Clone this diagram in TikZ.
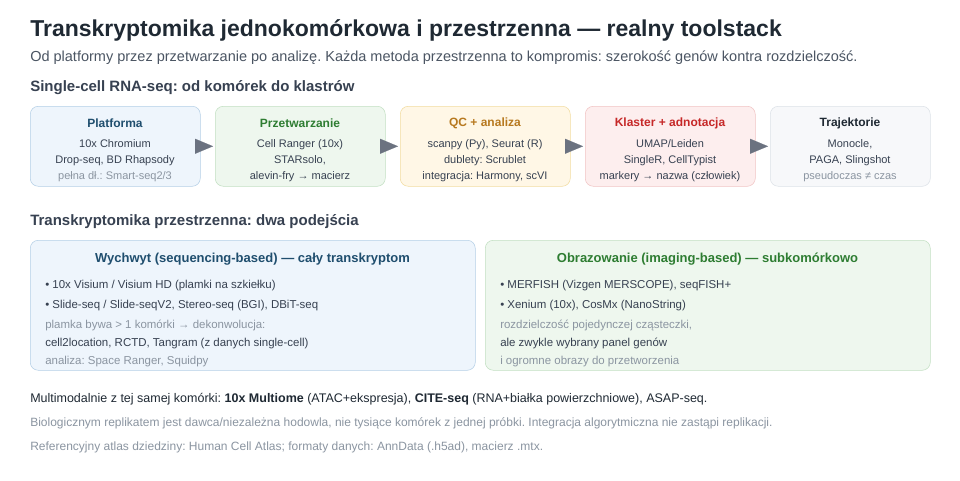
\documentclass[tikz,border=0pt]{standalone}
\usepackage{fontspec}
\setmainfont{Liberation Sans}
\usepackage{xcolor}
\definecolor{Charcoal}{HTML}{1F2933}
\definecolor{Slate Gray}{HTML}{4B5563}
\definecolor{Iron}{HTML}{374151}
\definecolor{Fog}{HTML}{8B95A1}
\definecolor{Steel}{HTML}{6B7280}
\definecolor{Ice}{HTML}{EEF5FC}
\definecolor{Ice Edge}{HTML}{B4CFE6}
\definecolor{Navy Ink}{HTML}{1F4E6E}
\definecolor{Mint}{HTML}{EEF7EE}
\definecolor{Mint Edge}{HTML}{C2E0C2}
\definecolor{Leaf}{HTML}{2E7D32}
\definecolor{Cream}{HTML}{FFF7E6}
\definecolor{Cream Edge}{HTML}{F2DCA0}
\definecolor{Amber}{HTML}{B7791F}
\definecolor{Blush}{HTML}{FDEEEE}
\definecolor{Blush Edge}{HTML}{F1C4C4}
\definecolor{Brick}{HTML}{C62828}
\definecolor{Cloud}{HTML}{F7F8FA}
\definecolor{Cloud Edge}{HTML}{DDE2E8}
\colorlet{cTitle}{Charcoal}
\colorlet{cSub}{Slate Gray}
\colorlet{cText}{Iron}
\colorlet{cMuted}{Fog}
\colorlet{cArrow}{Steel}
\usepackage{tikz}
\usetikzlibrary{arrows.meta, positioning}
\frenchspacing
\tikzset{
	line width = .75pt,
	>={Triangle[length=13.5pt, width=11.25pt]},
	stage/.style={
		draw,
		rounded corners=6pt,
		minimum width=127.5pt,
		minimum height=60pt,
		anchor=north west,
		inner sep=0pt
	},
	panel/.style={
		draw,
		rounded corners=6pt,
		minimum width=333.75pt,
		minimum height=97.5pt,
		anchor=north west,
		inner sep=0pt
	},
	stagetitle/.style={
		font=\fontsize{9}{11}\selectfont\bfseries,
		inner sep=0pt
	},
	stagebody/.style={
		font=\fontsize{8.25}{12}\selectfont,
		text=cText,
		align=center,
		inner sep=0pt
	},
	line/.style={
		font=\fontsize{8.6}{10}\selectfont,
		text=cText,
		anchor=base west,
		yshift=-3pt,
		inner sep=0pt
	},
	note/.style={
		line,
		font=\fontsize{9}{11}\selectfont,
		text=cMuted
	},
	flow/.style={
		->,
		draw=cArrow,
		fill=cArrow,
		line width=.1pt,
		shorten >=1.5pt
	}
}

\begin{document}
\begin{tikzpicture}[x=.75pt, y=-.75pt]
		\useasboundingbox[fill=white] (0,0) rectangle (960,480);

		\node[anchor=west, inner sep=0pt, text=cTitle, font=\fontsize{17.25}{20}\selectfont\bfseries] (title) at (30,30)
			{Transkryptomika jednokomórkowa i przestrzenna — realny toolstack};
		\node[anchor=west, inner sep=0pt, text=cSub, font=\fontsize{10.88}{14}\selectfont] (subtitle) at (30,58)
			{Od platformy przez przetwarzanie po analizę. Każda metoda przestrzenna to kompromis: szerokość genów kontra rozdzielczość.};
		\node[anchor=west, inner sep=0pt, text=cText, font=\fontsize{11.25}{14}\selectfont\bfseries] (sc head) at (30,88)
			{Single-cell RNA-seq: od komórek do klastrów};

		% pipeline
		\node[stage, draw=Ice Edge, fill=Ice] (p1) at (30,106) {};
		\node[stage, draw=Mint Edge, fill=Mint] (p2) at (215,106) {};
		\node[stage, draw=Cream Edge, fill=Cream] (p3) at (400,106) {};
		\node[stage, draw=Blush Edge, fill=Blush] (p4) at (585,106) {};
		\node[stage, draw=Cloud Edge, fill=Cloud, minimum width=120pt] (p5) at (770,106) {};

		\node[stagetitle, text=Navy Ink] (t1) at (115,123) {Platforma};
		\node[stagetitle, text=Leaf] (t2) at (300,123) {Przetwarzanie};
		\node[stagetitle, text=Amber] (t3) at (485,123) {QC + analiza};
		\node[stagetitle, text=Brick] (t4) at (670,123) {Klaster + adnotacja};
		\node[stagetitle, text=cTitle] (t5) at (850,123) {Trajektorie};

		\node[stagebody] (b1) at (115,161) {10x Chromium\\Drop-seq, BD Rhapsody\\\textcolor{cMuted}{pełna dł.: Smart-seq2/3}};
		\node[stagebody] (b2) at (300,161) {Cell Ranger (10x)\\STARsolo,\\alevin-fry → macierz};
		\node[stagebody] (b3) at (485,161) {scanpy (Py), Seurat (R)\\dublety: Scrublet\\integracja: Harmony, scVI};
		\node[stagebody] (b4) at (670,161) {UMAP/Leiden\\SingleR, CellTypist\\markery → nazwa (człowiek)};
		\node[stagebody] (b5) at (850,161) {Monocle,\\PAGA, Slingshot\\\textcolor{cMuted}{pseudoczas ≠ czas}};

		\draw[flow] (p1.east) -- (p2.west);
		\draw[flow] (p2.east) -- (p3.west);
		\draw[flow] (p3.east) -- (p4.west);
		\draw[flow] (p4.east) -- (p5.west);

		% spatial
		\node[anchor=west, inner sep=0pt, text=cText, font=\fontsize{11.25}{14}\selectfont\bfseries] (st head) at (30,222)
			{Transkryptomika przestrzenna: dwa podejścia};

		\node[panel, draw=Ice Edge, fill=Ice] (seq) at (30,240) {};
		\node[panel, draw=Mint Edge, fill=Mint] (img) at (485,240) {};

		\node[stagetitle, font=\fontsize{9.75}{12}\selectfont\bfseries, text=Navy Ink] (seq title) at (252.5,259)
			{Wychwyt (sequencing-based) — cały transkryptom};
		\node[line] (s1) at (45,284) {• 10x Visium / Visium HD (plamki na szkiełku)};
		\node[line] (s2) at (45,304) {• Slide-seq / Slide-seqV2, Stereo-seq (BGI), DBiT-seq};
		\node[line, text=cMuted] (s3) at (45,324) {plamka bywa > 1 komórki → dekonwolucja:};
		\node[line] (s4) at (45,342) {cell2location, RCTD, Tangram (z danych single-cell)};
		\node[line, text=cMuted] (s5) at (45,360) {analiza: Space Ranger, Squidpy};

		\node[stagetitle, font=\fontsize{9.75}{12}\selectfont\bfseries, text=Leaf] (img title) at (707.5,259)
			{Obrazowanie (imaging-based) — subkomórkowo};
		\node[line] (i1) at (500,284) {• MERFISH (Vizgen MERSCOPE), seqFISH+};
		\node[line] (i2) at (500,304) {• Xenium (10x), CosMx (NanoString)};
		\node[line, text=cMuted] (i3) at (500,324) {rozdzielczość pojedynczej cząsteczki,};
		\node[line] (i4) at (500,342) {ale zwykle wybrany panel genów};
		\node[line, text=cMuted] (i5) at (500,360) {i ogromne obrazy do przetworzenia};

		% notes
		\node[note, font=\fontsize{9.37}{11}\selectfont, text=Charcoal] (n1) at (30,398)
			{Multimodalnie z tej samej komórki: \textbf{10x Multiome} (ATAC+ekspresja), \textbf{CITE-seq} (RNA+białka powierzchniowe), ASAP-seq.};
		\node[note] (n2) at (30,422)
			{Biologicznym replikatem jest dawca/niezależna hodowla, nie tysiące komórek z jednej próbki. Integracja algorytmiczna nie zastąpi replikacji.};
		\node[note] (n3) at (30,446)
			{Referencyjny atlas dziedziny: Human Cell Atlas; formaty danych: AnnData (.h5ad), macierz .mtx.};
	\end{tikzpicture}
\end{document}
